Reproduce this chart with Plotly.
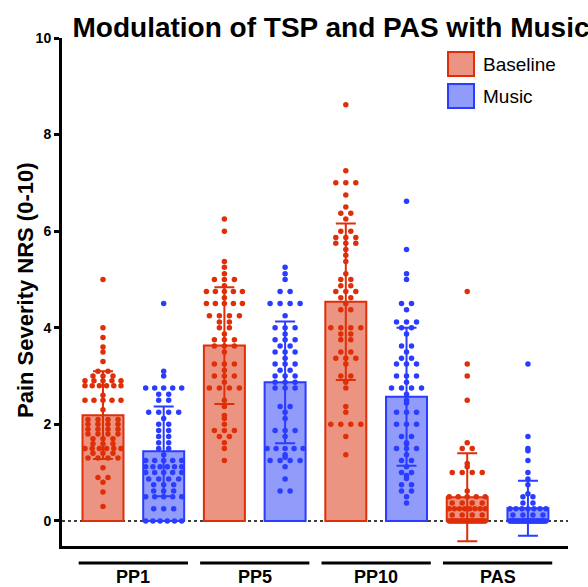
import plotly.graph_objects as go
from collections import Counter

# ---------------- data ----------------
conditions = ["PP1", "PP5", "PP10", "PAS"]
series_names = ["Baseline", "Music"]

baseline_means = [2.19, 3.63, 4.54, 0.49]
baseline_sd = [0.91, 1.21, 1.62, 0.91]
music_means = [1.44, 2.87, 2.57, 0.26]
music_sd = [0.93, 1.26, 1.43, 0.57]

pp1_baseline = [5.0, 4.0, 3.8, 3.6, 3.5, 3.3, 3.1, 3.1, 3.0, 3.0, 3.0,
                2.9, 2.9, 2.9, 2.9, 2.9, 2.8, 2.8, 2.8, 2.8, 2.8, 2.8,
                2.6, 2.5, 2.5, 2.5, 2.5, 2.5, 2.3, 2.1, 2.1, 2.1, 2.1,
                2.0, 2.0, 2.0, 2.0, 1.9, 1.9, 1.9, 1.9,
                1.8, 1.8, 1.8, 1.8, 1.7, 1.7, 1.7, 1.6, 1.6, 1.6,
                1.5, 1.5, 1.5, 1.5, 1.5, 1.5, 1.4, 1.4, 1.4,
                1.3, 1.3, 1.3, 1.3, 1.1, 0.9, 0.9, 0.8, 0.6, 0.3]
pp1_music = [4.5, 3.1, 3.0, 2.75, 2.75, 2.75, 2.75, 2.75, 2.62, 2.62, 2.5, 2.5,
             2.25, 2.25, 2.25, 2.25, 2.12, 2.0, 2.0, 1.87, 1.87, 1.75, 1.75,
             1.62, 1.62, 1.5, 1.5, 1.37, 1.25, 1.25, 1.25, 1.25, 1.25,
             1.12, 1.12, 1.12, 1.12, 1.12, 1.12, 1.0, 1.0, 1.0, 1.0, 1.0,
             0.87, 0.87, 0.87, 0.87, 0.75, 0.75, 0.75, 0.62, 0.62, 0.62,
             0.5, 0.5, 0.5, 0.5, 0.5, 0.25, 0.25, 0.25,
             0.0, 0.0, 0.0, 0.0, 0.0, 0.0]
pp5_baseline = [6.25, 6.0, 5.37, 5.25, 5.12, 5.0, 5.0, 5.0, 4.87,
                4.75, 4.75, 4.75, 4.75, 4.75, 4.62, 4.5, 4.5, 4.5, 4.5, 4.5,
                4.25, 4.25, 4.25, 4.25, 4.12, 4.12, 4.0, 4.0, 3.87,
                3.75, 3.75, 3.75, 3.62, 3.62, 3.62, 3.5, 3.25, 3.25, 3.25, 3.12,
                3.0, 3.0, 3.0, 2.87, 2.75, 2.75, 2.75, 2.75, 2.5, 2.37, 2.18, 2.12,
                2.0, 1.87, 1.87, 1.87, 1.75, 1.75, 1.62, 1.5, 1.25]
pp5_music = [5.25, 5.12, 5.0, 4.75, 4.75, 4.5, 4.5, 4.5, 4.5, 4.25,
             4.0, 4.0, 4.0, 3.87, 3.75, 3.75, 3.75, 3.62, 3.62, 3.5, 3.5, 3.5,
             3.37, 3.25, 3.25, 3.25, 3.12, 3.12, 3.0, 3.0, 3.0, 2.87, 2.87, 2.87,
             2.75, 2.75, 2.75, 2.37, 2.37, 2.25, 2.12, 1.87, 1.87, 1.87, 1.75,
             1.5, 1.5, 1.5, 1.5, 1.5, 1.37, 1.32, 1.25, 1.25, 1.25, 1.25,
             1.12, 0.87, 0.62, 0.62]
pp10_baseline = [8.62, 7.25, 7.0, 7.0, 7.0, 6.75, 6.5, 6.37, 6.37, 6.25,
                 6.0, 6.0, 5.87, 5.87, 5.87, 5.75, 5.75, 5.75, 5.62, 5.5, 5.37,
                 5.12, 5.0, 5.0, 4.87, 4.87, 4.75, 4.75, 4.75, 4.62, 4.62, 4.5,
                 4.37, 4.37, 4.0, 4.0, 4.0, 4.0, 3.87, 3.87, 3.75, 3.75,
                 3.5, 3.5, 3.37, 3.37, 3.37, 3.25, 3.0, 3.0, 2.87, 2.75,
                 2.37, 2.25, 2.0, 2.0, 2.0, 2.0, 1.75, 1.37]
pp10_music = [6.62, 5.62, 5.12, 5.0, 4.5, 4.5, 4.37, 4.12, 4.12, 4.12, 4.0, 4.0,
              3.87, 3.62, 3.62, 3.5, 3.37, 3.37, 3.25, 3.25, 3.25, 3.0, 3.0, 3.0,
              2.87, 2.75, 2.75, 2.75, 2.75, 2.62, 2.5, 2.44, 2.25, 2.25, 2.25,
              2.0, 2.0, 2.0, 1.75, 1.75, 1.62, 1.6, 1.5, 1.5, 1.5, 1.37,
              1.25, 1.25, 1.12, 1.0, 1.0, 0.94, 0.88, 0.75, 0.75, 0.62, 0.62,
              0.5, 0.37]
pas_baseline = [4.75, 3.25, 3.0, 2.5, 1.62, 1.5, 1.5, 1.19, 1.12,
                1.0, 1.0, 1.0, 1.0, 0.62, 0.5, 0.5, 0.5, 0.5, 0.5,
                0.37, 0.37, 0.37, 0.37, 0.25, 0.25, 0.25, 0.25, 0.25, 0.25, 0.25, 0.25,
                0.12, 0.12, 0.12, 0.12,
                0.0, 0.0, 0.0, 0.0, 0.0, 0.0, 0.0, 0.0, 0.0, 0.0, 0.0, 0.0, 0.0,
                0.0, 0.0, 0.0, 0.0, 0.0, 0.0, 0.0, 0.0, 0.0, 0.0, 0.0, 0.0]
pas_music = [3.25, 1.75, 1.5, 1.45, 1.25, 1.0, 0.87, 0.75, 0.56, 0.5, 0.5,
             0.37, 0.37, 0.25, 0.25, 0.25, 0.25, 0.25, 0.25, 0.25,
             0.12, 0.12, 0.12, 0.12,
             0.0, 0.0, 0.0, 0.0, 0.0, 0.0, 0.0, 0.0, 0.0, 0.0, 0.0, 0.0, 0.0,
             0.0, 0.0, 0.0, 0.0, 0.0, 0.0, 0.0, 0.0, 0.0, 0.0, 0.0, 0.0, 0.0,
             0.0, 0.0, 0.0, 0.0, 0.0, 0.0, 0.0, 0.0]

baseline_points = [pp1_baseline, pp5_baseline, pp10_baseline, pas_baseline]
music_points = [pp1_music, pp5_music, pp10_music, pas_music]

y_ticks = [0, 2, 4, 6, 8, 10]

# ---------------- styling / layout ----------------
W, H = 588, 587
ML, MR, MT, MB = 62, 20, 38, 41
PLOT_W = W - ML - MR
PLOT_H = H - MT - MB
X_RANGE = [-0.675, 7.66]
Y_RANGE = [-0.52, 10]
PX_PER_X = PLOT_W / (X_RANGE[1] - X_RANGE[0])

FONT = "Liberation Sans, Arial, Helvetica, sans-serif"
RED = "#DE2F08"
RED_FILL = "#EC9482"
BLUE = "#2A3CFF"
BLUE_FILL = "#909BFA"
BAR_W = 0.675
DOT_GAP_PX = 10.0
MAX_SPAN_PX = 36.0


def swarm_offsets(values):
    counts = Counter(round(v, 2) for v in values)
    seen = Counter()
    out = []
    for v in values:
        key = round(v, 2)
        n = counts[key]
        k = seen[key]
        seen[key] += 1
        step = min(DOT_GAP_PX, MAX_SPAN_PX / (n - 1)) if n > 1 else 0.0
        out.append((k - (n - 1) / 2.0) * step / PX_PER_X)
    return out


def px_to_paper_x(px):
    return (px - ML) / PLOT_W


def py_to_paper_y(py):
    return (H - MB - py) / PLOT_H


fig = go.Figure()

series = [
    ("Baseline", baseline_means, baseline_sd, baseline_points, RED, RED_FILL, 0),
    ("Music", music_means, music_sd, music_points, BLUE, BLUE_FILL, 1),
]

for name, means, sds, pts, col, fill, s in series:
    xs = [2 * g + s for g in range(len(conditions))]
    fig.add_trace(go.Bar(
        x=xs, y=means, width=BAR_W, name=name,
        marker=dict(color=fill, line=dict(color=col, width=2)),
        error_y=dict(type="data", array=sds, color=col, thickness=2, width=10),
        showlegend=False,
    ))

for name, means, sds, pts, col, fill, s in series:
    for g, vals in enumerate(pts):
        offs = swarm_offsets(vals)
        fig.add_trace(go.Scatter(
            x=[2 * g + s + o for o in offs], y=vals, mode="markers",
            marker=dict(color=col, size=5.5, line=dict(width=0)),
            showlegend=False, hoverinfo="skip",
        ))

shapes = []
# dotted zero line
shapes.append(dict(type="line", xref="paper", yref="y", x0=0, x1=1, y0=0, y1=0,
                   line=dict(color="black", width=1.5, dash="dot"), layer="below"))
# group underlines
for g in range(len(conditions)):
    shapes.append(dict(type="line", xref="x", yref="paper",
                       x0=2 * g - 0.4, x1=2 * g + 1.4,
                       y0=py_to_paper_y(563), y1=py_to_paper_y(563),
                       line=dict(color="black", width=3)))

annotations = []
for g, lab in enumerate(conditions):
    annotations.append(dict(x=2 * g + 0.5, xref="x", y=py_to_paper_y(577), yref="paper",
                            text=lab, showarrow=False, xanchor="center", yanchor="middle",
                            font=dict(family=FONT, size=18, color="black", weight="bold")))

# manual legend
leg = [("Baseline", RED, RED_FILL, 52, 76), ("Music", BLUE, BLUE_FILL, 84, 108)]
for name, col, fill, y0, y1 in leg:
    shapes.append(dict(type="rect", xref="paper", yref="paper",
                       x0=px_to_paper_x(448), x1=px_to_paper_x(474),
                       y0=py_to_paper_y(y1), y1=py_to_paper_y(y0),
                       fillcolor=fill, line=dict(color=col, width=2)))
    annotations.append(dict(x=px_to_paper_x(481), xref="paper",
                            y=py_to_paper_y((y0 + y1) / 2), yref="paper",
                            text=name, showarrow=False, xanchor="left", yanchor="middle",
                            font=dict(family=FONT, size=19, color="black")))

# y axis title
annotations.append(dict(x=px_to_paper_x(25), xref="paper", y=py_to_paper_y(290), yref="paper",
                        text="Pain Severity NRS (0-10)", textangle=-90, showarrow=False,
                        xanchor="center", yanchor="middle",
                        font=dict(family=FONT, size=22, color="black", weight="bold")))

fig.update_layout(
    width=W, height=H,
    margin=dict(l=ML, r=MR, t=MT, b=MB, autoexpand=False),
    paper_bgcolor="white", plot_bgcolor="white",
    barmode="overlay",
    showlegend=False,
    title=dict(text="Modulation of TSP and PAS with Music",
               x=331 / W, xanchor="center", xref="container",
               y=1 - 27 / H, yanchor="middle", yref="container",
               font=dict(family=FONT, size=28, color="black", weight="bold")),
    xaxis=dict(range=X_RANGE, showgrid=False, zeroline=False, showticklabels=False,
               ticks="", showline=True, linecolor="black", linewidth=3, fixedrange=True),
    yaxis=dict(range=Y_RANGE, showgrid=False, zeroline=False, tickmode="array",
               tickvals=y_ticks, ticktext=[str(t) for t in y_ticks],
               ticks="outside", ticklen=5, tickwidth=2.5, tickcolor="black",
               showline=True, linecolor="black", linewidth=3,
               tickfont=dict(family=FONT, size=14, color="black", weight="bold")),
    shapes=shapes,
    annotations=annotations,
    font=dict(family=FONT),
)

fig.write_html("out.html", config={"displayModeBar": False},
               post_script="document.body.style.margin='0px';"
               "document.body.style.overflow='hidden';")
